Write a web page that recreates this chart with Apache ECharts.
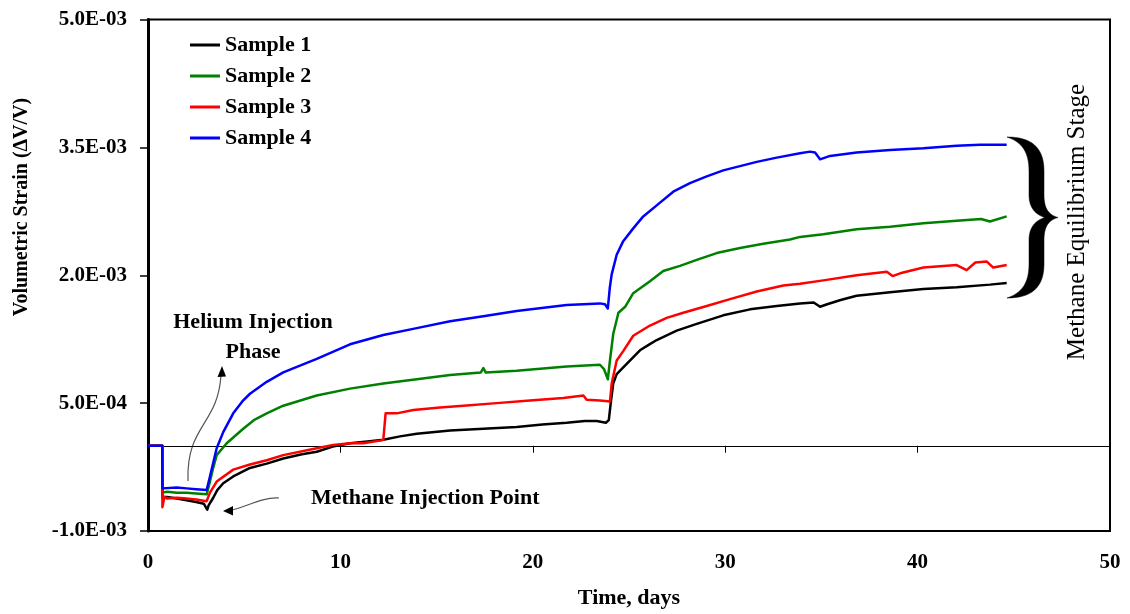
<!DOCTYPE html>
<html>
<head>
<meta charset="utf-8">
<title>Volumetric Strain vs Time</title>
<script src="https://cdn.jsdelivr.net/npm/echarts@6/dist/echarts.min.js"></script>
<style>
  html, body { margin: 0; padding: 0; background: #fff; }
  #chart { width: 1130px; height: 614px; }
</style>
</head>
<body>
<div id="chart"></div>
<script>
// Volumetric strain (ΔV/V) measured over time for four coal samples: [days, strain]
const sample1 = [
  [0, 0], [0.74, 0], [0.75, -0.60e-3], [1.0, -0.60e-3], [1.5, -0.62e-3], [2.0, -0.64e-3],
  [2.5, -0.66e-3], [2.9, -0.68e-3], [3.0, -0.72e-3], [3.08, -0.75e-3], [3.15, -0.70e-3],
  [3.39, -0.61e-3], [3.6, -0.52e-3], [3.91, -0.44e-3], [4.43, -0.36e-3], [5.30, -0.26e-3],
  [6.17, -0.21e-3], [7.03, -0.15e-3], [8.0, -0.10e-3], [8.77, -0.07e-3], [9.6, -0.01e-3],
  [10.50, 0.03e-3], [11.4, 0.05e-3], [12.23, 0.07e-3], [13.1, 0.11e-3], [13.97, 0.14e-3],
  [15.70, 0.18e-3], [17.43, 0.20e-3], [19.16, 0.22e-3], [20.5, 0.25e-3], [21.76, 0.27e-3],
  [22.7, 0.29e-3], [23.32, 0.29e-3], [23.8, 0.27e-3], [23.95, 0.30e-3], [24.05, 0.50e-3],
  [24.18, 0.73e-3], [24.36, 0.84e-3], [24.88, 0.96e-3], [25.57, 1.12e-3], [26.0, 1.18e-3],
  [26.44, 1.24e-3], [27.48, 1.35e-3], [28.52, 1.43e-3], [29.90, 1.53e-3], [31.29, 1.60e-3],
  [32.68, 1.64e-3], [33.89, 1.67e-3], [34.6, 1.68e-3], [34.93, 1.63e-3], [35.3, 1.66e-3],
  [36.0, 1.71e-3], [36.83, 1.76e-3], [38.57, 1.80e-3], [40.30, 1.84e-3], [42.03, 1.86e-3],
  [43.76, 1.89e-3], [44.63, 1.91e-3]
];
const sample2 = [
  [0, 0], [0.74, 0], [0.75, -0.55e-3], [1.0, -0.54e-3], [1.5, -0.55e-3], [2.0, -0.55e-3],
  [2.5, -0.56e-3], [3.05, -0.57e-3], [3.22, -0.42e-3], [3.4, -0.25e-3], [3.57, -0.11e-3],
  [4.09, 0.03e-3], [4.95, 0.20e-3], [5.5, 0.30e-3], [6.17, 0.38e-3], [7.03, 0.47e-3],
  [8.77, 0.59e-3], [10.50, 0.67e-3], [12.23, 0.73e-3], [13.97, 0.78e-3], [15.70, 0.83e-3],
  [17.3, 0.86e-3], [17.43, 0.91e-3], [17.55, 0.86e-3], [19.16, 0.88e-3], [21.76, 0.93e-3],
  [23.49, 0.95e-3], [23.7, 0.90e-3], [23.9, 0.78e-3], [24.01, 1.00e-3], [24.18, 1.31e-3],
  [24.45, 1.56e-3], [24.8, 1.63e-3], [25.22, 1.79e-3], [26.09, 1.93e-3], [26.78, 2.05e-3],
  [27.65, 2.11e-3], [28.52, 2.18e-3], [29.56, 2.26e-3], [30.77, 2.32e-3], [31.98, 2.37e-3],
  [33.37, 2.42e-3], [33.89, 2.45e-3], [35.10, 2.48e-3], [36.83, 2.54e-3], [38.57, 2.57e-3],
  [40.30, 2.61e-3], [42.03, 2.64e-3], [43.3, 2.66e-3], [43.76, 2.63e-3], [44.63, 2.69e-3]
];
const sample3 = [
  [0, 0], [0.74, 0], [0.75, -0.72e-3], [0.85, -0.60e-3], [1.0, -0.62e-3], [1.5, -0.61e-3],
  [2.0, -0.62e-3], [2.5, -0.63e-3], [3.05, -0.65e-3], [3.22, -0.55e-3], [3.57, -0.42e-3],
  [4.43, -0.28e-3], [5.30, -0.22e-3], [6.17, -0.17e-3], [7.03, -0.11e-3], [8.77, -0.03e-3],
  [9.63, 0.01e-3], [10.50, 0.03e-3], [11.19, 0.03e-3], [12.06, 0.06e-3], [12.23, 0.07e-3],
  [12.35, 0.38e-3], [12.93, 0.38e-3], [13.79, 0.42e-3], [15.18, 0.45e-3], [16.39, 0.47e-3],
  [18.12, 0.50e-3], [19.85, 0.53e-3], [21.58, 0.56e-3], [22.63, 0.59e-3], [22.80, 0.54e-3],
  [23.49, 0.53e-3], [24.01, 0.52e-3], [24.10, 0.73e-3], [24.36, 1.00e-3], [24.70, 1.11e-3],
  [25.22, 1.29e-3], [26.09, 1.41e-3], [26.96, 1.50e-3], [27.82, 1.56e-3], [29.04, 1.64e-3],
  [30.25, 1.72e-3], [31.64, 1.81e-3], [33.02, 1.88e-3], [33.89, 1.90e-3], [35.10, 1.94e-3],
  [36.83, 2.00e-3], [38.4, 2.04e-3], [38.7, 1.99e-3], [39.2, 2.03e-3], [40.30, 2.09e-3],
  [42.03, 2.12e-3], [42.55, 2.06e-3], [43.0, 2.15e-3], [43.6, 2.16e-3], [43.93, 2.09e-3],
  [44.63, 2.12e-3]
];
const sample4 = [
  [0, 0], [0.74, 0], [0.75, -0.50e-3], [1.5, -0.49e-3], [2.0, -0.50e-3], [2.5, -0.51e-3],
  [3.05, -0.52e-3], [3.22, -0.36e-3], [3.57, -0.03e-3], [3.91, 0.16e-3], [4.43, 0.38e-3],
  [4.9, 0.52e-3], [5.30, 0.61e-3], [6.17, 0.75e-3], [7.03, 0.86e-3], [8.77, 1.02e-3],
  [10.50, 1.19e-3], [12.23, 1.30e-3], [13.97, 1.38e-3], [15.70, 1.46e-3], [17.43, 1.52e-3],
  [19.16, 1.58e-3], [21.76, 1.65e-3], [23.49, 1.67e-3], [23.75, 1.66e-3], [23.9, 1.61e-3],
  [24.0, 1.85e-3], [24.10, 2.01e-3], [24.36, 2.24e-3], [24.70, 2.40e-3], [25.22, 2.55e-3],
  [25.74, 2.69e-3], [26.44, 2.82e-3], [27.30, 2.98e-3], [28.17, 3.08e-3], [29.04, 3.16e-3],
  [29.90, 3.23e-3], [30.77, 3.28e-3], [31.64, 3.33e-3], [32.68, 3.38e-3], [33.89, 3.43e-3],
  [34.41, 3.45e-3], [34.67, 3.44e-3], [34.93, 3.36e-3], [35.45, 3.40e-3], [36.83, 3.44e-3],
  [38.57, 3.47e-3], [40.30, 3.49e-3], [42.03, 3.52e-3], [43.24, 3.53e-3], [44.63, 3.53e-3]
];

const seriesNames = ['Sample 1', 'Sample 2', 'Sample 3', 'Sample 4'];
const seriesColors = ['#000000', '#008000', '#ff0000', '#0000ff'];
const yTicks = [-1.0e-3, 0.5e-3, 2.0e-3, 3.5e-3, 5.0e-3];

const serif = '"Liberation Serif", "Times New Roman", serif';

// Format a tick value like 5.0E-03
function sci(v) {
  const parts = v.toExponential(1).split('e');
  const exp = parseInt(parts[1], 10);
  return parts[0] + 'E' + (exp < 0 ? '-' : '+') + String(Math.abs(exp)).padStart(2, '0');
}

// Outline of a curly brace as cubic segments, sampled into a polygon
function bracePoints(ox, oy) {
  const segs = [
    [[0, 0], [24, 0], [37, 10], [37, 34]],
    [[37, 34], [37, 42], [37, 50], [37, 58]],
    [[37, 58], [37, 72], [42, 78], [51, 80.5]],
    [[51, 80.5], [42, 83], [37, 89], [37, 103]],
    [[37, 103], [37, 111], [37, 119], [37, 127]],
    [[37, 127], [37, 151], [24, 161], [0, 161]],
    [[0, 161], [15, 156], [22, 146], [22, 127]],
    [[22, 127], [22, 119], [22, 111], [22, 103]],
    [[22, 103], [22, 90], [29, 83], [38, 80.5]],
    [[38, 80.5], [29, 78], [22, 71], [22, 58]],
    [[22, 58], [22, 50], [22, 42], [22, 34]],
    [[22, 34], [22, 15], [15, 5], [0, 0]]
  ];
  const pts = [];
  segs.forEach(([p0, p1, p2, p3]) => {
    for (let k = 0; k < 16; k++) {
      const t = k / 16, u = 1 - t;
      const a = u * u * u, b = 3 * u * u * t, c = 3 * u * t * t, d = t * t * t;
      pts.push([
        ox + a * p0[0] + b * p1[0] + c * p2[0] + d * p3[0],
        oy + a * p0[1] + b * p1[1] + c * p2[1] + d * p3[1]
      ]);
    }
  });
  return pts;
}

const chart = echarts.init(document.getElementById('chart'), null, { renderer: 'canvas' });

const boldText = { fontFamily: serif, fontWeight: 'bold', fontSize: 22, color: '#000' };
const tickText = { fontFamily: serif, fontWeight: 'bold', fontSize: 21, color: '#000' };

chart.setOption({
  animation: false,
  backgroundColor: '#fff',
  grid: {
    left: 148, right: 20, top: 19.5, bottom: 78.5,
    show: true, borderColor: '#000', borderWidth: 2, backgroundColor: 'transparent'
  },
  legend: {
    orient: 'vertical', left: 190, top: 34, padding: 0,
    icon: 'rect', itemWidth: 30, itemHeight: 3, itemGap: 9,
    textStyle: boldText,
    data: seriesNames
  },
  xAxis: [
    {
      type: 'value', min: 0, max: 50, interval: 10, position: 'bottom',
      axisLine: { onZero: false, lineStyle: { color: '#000', width: 2 } },
      axisTick: { show: false },
      splitLine: { show: false },
      axisLabel: Object.assign({ margin: 21 }, tickText),
      name: 'Time, days', nameLocation: 'middle', nameGap: 56,
      nameTextStyle: boldText
    },
    {
      type: 'value', min: 0, max: 50, interval: 10, position: 'top',
      axisLine: { onZero: true, onZeroAxisIndex: 0, lineStyle: { color: '#000', width: 1 } },
      axisTick: { show: true, inside: true, length: 7, lineStyle: { color: '#000', width: 1 } },
      axisLabel: { show: false },
      splitLine: { show: false }
    }
  ],
  yAxis: {
    type: 'value', min: -1.0e-3, max: 5.0e-3,
    axisLine: { show: true, onZero: false, lineStyle: { color: '#000', width: 3 } },
    axisTick: { show: true, length: 8, customValues: yTicks, lineStyle: { color: '#000', width: 1.5 } },
    axisLabel: Object.assign({ margin: 21, customValues: yTicks, formatter: sci }, tickText),
    splitLine: { show: false }
  },
  series: [sample1, sample2, sample3, sample4].map((d, i) => ({
    name: seriesNames[i],
    type: 'line',
    xAxisIndex: 0,
    data: d,
    symbol: 'none',
    color: seriesColors[i],
    lineStyle: { color: seriesColors[i], width: 2.5, join: 'round' },
    z: 3 + i
  })),
  graphic: [
    // axis title for strain
    {
      type: 'text', x: 22, y: 207, rotation: Math.PI / 2,
      style: {
        text: 'Volumetric Strain (ΔV/V)', fill: '#000',
        fontFamily: serif, fontWeight: 'bold', fontSize: 20,
        align: 'center', verticalAlign: 'middle'
      }
    },
    // helium phase note and its arrow
    {
      type: 'text', x: 253, y: 337,
      style: {
        text: 'Helium Injection\nPhase', fill: '#000',
        fontFamily: serif, fontWeight: 'bold', fontSize: 22, lineHeight: 30,
        align: 'center', verticalAlign: 'middle'
      }
    },
    {
      type: 'bezierCurve',
      shape: { x1: 188, y1: 481, cpx1: 186, cpy1: 425, cpx2: 218, cpy2: 425, x2: 221, y2: 375 },
      style: { stroke: '#555', lineWidth: 1.2, fill: null }
    },
    {
      type: 'polygon',
      shape: { points: [[222, 366], [217.5, 377], [226, 376.5]] },
      style: { fill: '#000' }
    },
    // methane injection note and its arrow
    {
      type: 'text', x: 311, y: 498,
      style: {
        text: 'Methane Injection Point', fill: '#000',
        fontFamily: serif, fontWeight: 'bold', fontSize: 22,
        align: 'left', verticalAlign: 'middle'
      }
    },
    {
      type: 'bezierCurve',
      shape: { x1: 279, y1: 498, cpx1: 262, cpy1: 497, cpx2: 246, cpy2: 507, x2: 232, y2: 510 },
      style: { stroke: '#555', lineWidth: 1.2, fill: null }
    },
    {
      type: 'polygon',
      shape: { points: [[223, 511], [233, 506], [233, 515.5]] },
      style: { fill: '#000' }
    },
    // brace spanning the equilibrium values
    {
      type: 'polygon',
      shape: { points: bracePoints(1007, 137) },
      style: { fill: '#000', stroke: '#000', lineWidth: 0.5 }
    },
    {
      type: 'text', x: 1077, y: 222, rotation: Math.PI / 2,
      style: {
        text: 'Methane Equilibrium Stage', fill: '#000',
        fontFamily: serif, fontWeight: 'normal', fontSize: 25,
        align: 'center', verticalAlign: 'middle'
      }
    }
  ]
});
</script>
</body>
</html>
